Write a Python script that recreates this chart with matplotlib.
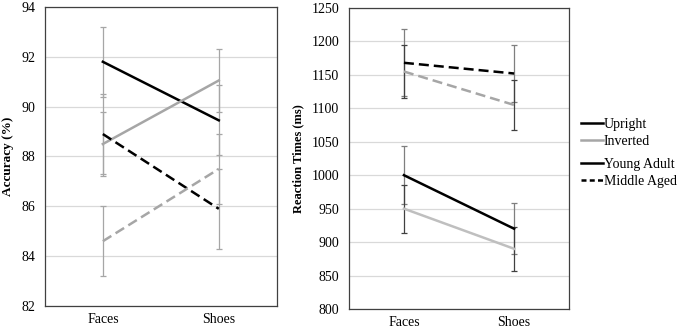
import matplotlib.pyplot as plt
from matplotlib.lines import Line2D

plt.rcParams['font.family'] = ['Liberation Serif', 'DejaVu Serif']

categories = ["Faces", "Shoes"]

# Accuracy (%)
acc_young_upright = [91.8, 89.45]
acc_young_upright_err = [1.4, 1.4]
acc_young_inverted = [88.5, 91.05]
acc_young_inverted_err = [1.3, 1.25]
acc_middle_upright = [88.9, 85.9]
acc_middle_upright_err = [1.6, 1.6]
acc_middle_inverted = [84.6, 87.5]
acc_middle_inverted_err = [1.4, 1.4]

# Reaction times (ms)
rt_young_upright = [1000, 920]
rt_young_upright_err = [43, 38]
rt_young_inverted = [950, 890]
rt_young_inverted_err = [36, 33]
rt_middle_upright = [1168, 1152]
rt_middle_upright_err = [50, 43]
rt_middle_inverted = [1155, 1105]
rt_middle_inverted_err = [40, 37]

BLACK = '#000000'
GRAY = '#A6A6A6'
LGRAY = '#BFBFBF'
GRID = '#D9D9D9'
BORDER = '#404040'

fig = plt.figure(figsize=(6.8, 3.31), dpi=100)
ax1 = fig.add_axes([0.066, 0.0755, 0.341, 0.9035])
ax2 = fig.add_axes([0.513, 0.0665, 0.324, 0.9095])

x = [0, 1]


def draw(ax, y, err, color, ls, ecolor):
    ax.errorbar(x, y, yerr=err, color=color, linestyle=ls, linewidth=1.8,
                ecolor=ecolor, elinewidth=0.9, capsize=2.5, capthick=0.9,
                zorder=3)


draw(ax1, acc_young_upright, acc_young_upright_err, BLACK, '-', GRAY)
draw(ax1, acc_young_inverted, acc_young_inverted_err, GRAY, '-', GRAY)
draw(ax1, acc_middle_upright, acc_middle_upright_err, BLACK, (0, (4, 2)), GRAY)
draw(ax1, acc_middle_inverted, acc_middle_inverted_err, GRAY, (0, (4, 2)), GRAY)

draw(ax2, rt_young_upright, rt_young_upright_err, BLACK, '-', '#7F7F7F')
draw(ax2, rt_young_inverted, rt_young_inverted_err, LGRAY, '-', '#404040')
draw(ax2, rt_middle_upright, rt_middle_upright_err, BLACK, (0, (4, 2)), '#7F7F7F')
draw(ax2, rt_middle_inverted, rt_middle_inverted_err, GRAY, (0, (4, 2)), '#404040')

ax1.set_ylim(82, 94)
ax1.set_yticks(range(82, 95, 2))
ax1.set_ylabel("Accuracy (%)", fontsize=9.5, fontweight='bold', labelpad=5)

ax2.set_ylim(800, 1250)
ax2.set_yticks(range(800, 1251, 50))
ax2.set_ylabel("Reaction Times (ms)", fontsize=9, fontweight='bold', labelpad=5)

for ax in (ax1, ax2):
    ax.set_xlim(-0.5, 1.5)
    ax.set_xticks(x)
    ax.set_xticklabels(categories)
    ax.tick_params(axis='both', length=0, labelsize=10, colors='#000000')
    ax.tick_params(axis='x', pad=5)
    ax.tick_params(axis='y', pad=7)
    ax.yaxis.grid(True, color=GRID, linewidth=0.9)
    ax.set_axisbelow(True)
    for s in ax.spines.values():
        s.set_color(BORDER)
        s.set_linewidth(0.9)

h1 = [Line2D([], [], color=BLACK, lw=1.8), Line2D([], [], color=GRAY, lw=1.8)]
h2 = [Line2D([], [], color=BLACK, lw=1.8),
      Line2D([], [], color=BLACK, lw=1.8, linestyle=(0, (2.0, 1.3)))]
leg_kw = dict(frameon=False, fontsize=10, handlelength=1.6, handletextpad=0.05,
              labelspacing=0.3, borderaxespad=0, loc='upper left')
fig.legend(h1, ["Upright", "Inverted"], bbox_to_anchor=(0.846, 0.660), **leg_kw)
fig.legend(h2, ["Young Adult", "Middle Aged"], bbox_to_anchor=(0.846, 0.540), **leg_kw)

fig.savefig("out.png", dpi=100)
